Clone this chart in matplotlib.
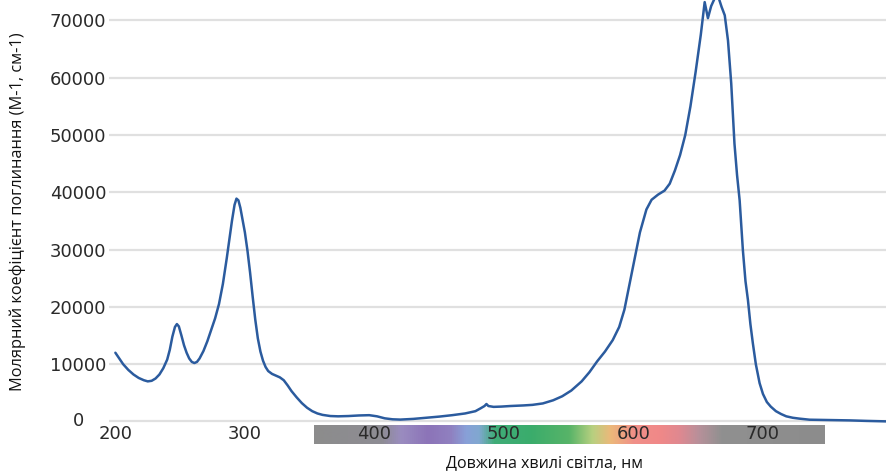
import matplotlib
matplotlib.use("Agg")
import matplotlib.pyplot as plt
import numpy as np
from matplotlib.colors import LinearSegmentedColormap

# ---- data ----
wavelength = [200, 203, 206, 210, 214, 218, 222, 225, 228, 231, 234, 237, 240, 242, 244, 246,
              247.5, 249, 251, 253, 255, 257, 259, 261, 263, 265, 268, 271, 274, 277, 280,
              283, 286, 288, 290, 292, 293.5, 295, 296.5, 298, 300, 302, 304, 306, 308, 310,
              312, 314, 316, 318, 321, 324, 327, 330, 333, 336, 340, 344, 348, 352, 356, 360,
              366, 372, 380, 388, 396, 402, 408, 414, 420, 430, 440, 450, 460, 470, 478, 482,
              485, 486.5, 488, 492, 498, 505, 515, 522, 530, 538, 545, 552, 560, 566, 572,
              578, 584, 589, 593, 597, 601, 605, 610, 614, 619, 624, 628, 632, 636, 640, 644,
              648, 652, 655, 657.5, 660, 663, 666, 668, 670.5, 673, 675.5, 678, 680, 682,
              684.5, 686.5, 688.4, 690.3, 692.2, 694.5, 697.4, 700, 703, 706, 710, 714, 718,
              723, 728, 736, 750, 767, 780, 795]
absorbance = [12000, 11000, 10000, 9000, 8200, 7600, 7200, 7000, 7100, 7500, 8200, 9300, 10800,
              12500, 14800, 16500, 17000, 16600, 15000, 13300, 12000, 11000, 10400, 10200,
              10400, 11000, 12300, 14000, 16000, 18000, 20500, 24000, 28500, 31800, 35000,
              37800, 38900, 38600, 37300, 35500, 33000, 29800, 26000, 21800, 17800, 14500,
              12200, 10600, 9500, 8800, 8300, 8000, 7700, 7200, 6300, 5300, 4200, 3200, 2400,
              1800, 1400, 1150, 950, 900, 950, 1050, 1100, 900, 550, 380, 330, 450, 650, 850,
              1100, 1400, 1800, 2300, 2700, 3050, 2700, 2550, 2600, 2700, 2800, 2900, 3150,
              3700, 4400, 5400, 7000, 8600, 10500, 12200, 14200, 16500, 19500, 24000, 28500,
              33000, 37000, 38700, 39600, 40300, 41500, 43800, 46500, 50000, 55000, 61000,
              67500, 73200, 70400, 72500, 74000, 73800, 72400, 70900, 66500, 59000, 48500,
              43000, 38600, 29900, 24500, 21200, 17000, 13650, 10000, 6700, 4800, 3400, 2600,
              1800, 1300, 900, 650, 500, 310, 250, 190, 100, 20]

y_ticks = [0, 10000, 20000, 30000, 40000, 50000, 60000, 70000]
x_ticks = [200, 300, 400, 500, 600, 700]

# decorative spectrum strip: wavelength stops and colours
strip_start, strip_end = 353, 747
strip_stops = [353, 405, 420, 440, 458, 470, 480, 492, 520, 550, 568, 582, 600, 620, 635, 650, 668, 747]
strip_colors = ["#8c8c8c", "#8e8c94", "#9a8cc0", "#8c74b8", "#9080c0", "#88a0d8", "#80a8d0",
                "#40ac78", "#3aac6c", "#58b468", "#b8d080", "#ecb87a", "#f09088", "#f08888",
                "#e08890", "#b8909a", "#909090", "#8c8c8c"]

ylabel = "Молярний коефіцієнт поглинання (М-1, см-1)"
xlabel = "Довжина хвилі світла, нм"

# ---- figure ----
W, H = 886, 476
fig = plt.figure(figsize=(W / 100, H / 100), dpi=100)

xmin, xmax = 195, 795
ymin, ymax = -300, 73570
ax_left, ax_right = 108.9, 886.0
ax_top, ax_bot = 0.0, 423.2
ax = fig.add_axes([ax_left / W, 1 - ax_bot / H, (ax_right - ax_left) / W, (ax_bot - ax_top) / H])
ax.set_zorder(2)

# spectrum strip axes (behind tick labels)
sax = fig.add_axes([ax_left / W, 1 - 443.5 / H, (ax_right - ax_left) / W, 19 / H])
sax.set_zorder(1)
sax.set_xlim(xmin, xmax)
sax.set_ylim(0, 1)
sax.axis("off")
pos = [(s - strip_start) / (strip_end - strip_start) for s in strip_stops]
cmap = LinearSegmentedColormap.from_list("strip", list(zip(pos, strip_colors)))
grad = np.linspace(0, 1, 512).reshape(1, -1)
sax.imshow(grad, aspect="auto", cmap=cmap, extent=(strip_start, strip_end, 0, 1))

ax.plot(wavelength, absorbance, color="#2b5b9e", lw=1.8, solid_joinstyle="round",
        solid_capstyle="round", zorder=3)

ax.set_xlim(xmin, xmax)
ax.set_ylim(ymin, ymax)
ax.set_yticks(y_ticks)
ax.set_yticklabels([""] + [str(v) for v in y_ticks[1:]])
ax.set_xticks(x_ticks)
ax.set_xticklabels([str(v) for v in x_ticks])
for s in ax.spines.values():
    s.set_visible(False)
ax.grid(axis="y", color="#e0e0e0", lw=1.6)
ax.set_axisbelow(True)
ax.tick_params(axis="both", length=0, labelsize=13, labelcolor="#2a2a2a")
ax.tick_params(axis="y", pad=2)
ax.tick_params(axis="x", pad=1)
ax.patch.set_alpha(0)

fig.text(79 / W, 1 - 421.5 / H, "0", ha="center", va="center", fontsize=13, color="#2a2a2a")
fig.text(18 / W, 1 - 212 / H, ylabel, rotation=90, ha="center", va="center",
         fontsize=11.8, family="Open Sans", color="#111111")
fig.text(545 / W, 1 - 463 / H, xlabel, ha="center", va="center",
         fontsize=11.5, family="Open Sans", color="#111111")

fig.savefig("out.png", dpi=100)
